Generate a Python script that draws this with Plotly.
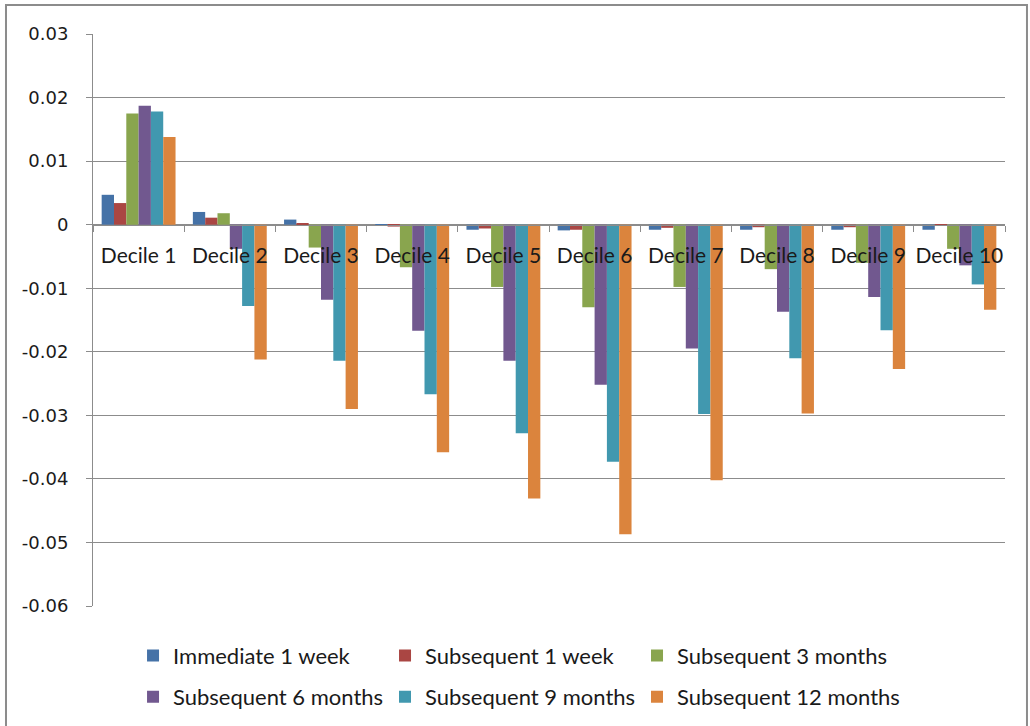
import plotly.graph_objects as go

categories = ["Decile 1", "Decile 2", "Decile 3", "Decile 4", "Decile 5",
              "Decile 6", "Decile 7", "Decile 8", "Decile 9", "Decile 10"]

immediate_1w = [0.0047, 0.0020, 0.0008, -0.0001, -0.0008, -0.0009, -0.0008, -0.0008, -0.0008, -0.0008]
subsequent_1w = [0.0034, 0.0011, 0.0002, -0.0003, -0.0006, -0.0008, -0.0005, -0.0004, -0.0004, -0.0002]
subsequent_3m = [0.0175, 0.0018, -0.0036, -0.0067, -0.0098, -0.0130, -0.0098, -0.0070, -0.0060, -0.0038]
subsequent_6m = [0.0187, -0.0038, -0.0118, -0.0167, -0.0214, -0.0252, -0.0195, -0.0137, -0.0114, -0.0064]
subsequent_9m = [0.0178, -0.0128, -0.0214, -0.0267, -0.0328, -0.0373, -0.0298, -0.0210, -0.0166, -0.0094]
subsequent_12m = [0.0138, -0.0212, -0.0290, -0.0358, -0.0431, -0.0487, -0.0402, -0.0297, -0.0227, -0.0134]

series_names = ["Immediate 1 week", "Subsequent 1 week", "Subsequent 3 months",
                "Subsequent 6 months", "Subsequent 9 months", "Subsequent 12 months"]
series_values = [immediate_1w, subsequent_1w, subsequent_3m,
                 subsequent_6m, subsequent_9m, subsequent_12m]
colors = ["#4572A7", "#AA4643", "#89A54E", "#71588F", "#4198AF", "#DB843D"]

y_tickvals = [0.03, 0.02, 0.01, 0, -0.01, -0.02, -0.03, -0.04, -0.05, -0.06]
y_ticktext = ["0.03", "0.02", "0.01", "0", "-0.01", "-0.02", "-0.03", "-0.04", "-0.05", "-0.06"]

y_min, y_max = -0.06, 0.03

# legend grid: 3 columns x 2 rows (paper coordinates)
legend_cols = [0.0439, 0.3202, 0.5965]
legend_rows = [-0.087, -0.159]

fig = go.Figure()
legend_layouts = {}
grid_col = "#8C8C8C"
txt_col = "#1a1a1a"
for i, (name, vals, col) in enumerate(zip(series_names, series_values, colors)):
    key = "legend" if i == 0 else f"legend{i + 1}"
    fig.add_trace(go.Bar(
        x=categories, y=vals, name=name,
        marker=dict(color=col, line=dict(width=0)),
        legend=key,
    ))
    legend_layouts[key] = dict(
        x=legend_cols[i % 3], y=legend_rows[i // 3],
        xanchor="left", yanchor="middle", orientation="h", itemwidth=30,
        font=dict(family="Lato", size=22, color=txt_col),
        bgcolor="rgba(0,0,0,0)", borderwidth=0,
    )

fig.update_layout(
    width=1030, height=726,
    margin=dict(l=93, r=25, t=34, b=120, autoexpand=False),
    paper_bgcolor="white", plot_bgcolor="white",
    barmode="group", bargap=0.19, bargroupgap=0,
    xaxis=dict(
        type="category", anchor="free", position=(0 - y_min) / (y_max - y_min),
        showline=True, linecolor=grid_col, linewidth=1,
        ticks="outside", tickson="boundaries", ticklen=6, tickcolor=grid_col,
        showgrid=False, tickfont=dict(family="Lato", size=21, color=txt_col),
        tickangle=0, ticklabelstandoff=12, automargin=False,
    ),
    yaxis=dict(
        range=[y_min, y_max], tickvals=y_tickvals, ticktext=y_ticktext,
        showgrid=True, gridcolor=grid_col, gridwidth=1, zeroline=False,
        showline=True, linecolor=grid_col, linewidth=1,
        ticks="outside", ticklen=6, tickcolor=grid_col,
        tickfont=dict(family="DejaVu Sans", size=18, color=txt_col),
        ticklabelstandoff=14, automargin=False,
    ),
    shapes=[dict(type="rect", xref="paper", yref="paper",
                 x0=-0.0954, x1=1.0241, y0=-0.25, y1=1.0507,
                 line=dict(color="#8C8C8C", width=2), fillcolor="rgba(0,0,0,0)", layer="below")],
    showlegend=True,
    **legend_layouts,
)

fig.write_html("out.html", config={"displayModeBar": False},
               post_script="document.body.style.margin='0';")
